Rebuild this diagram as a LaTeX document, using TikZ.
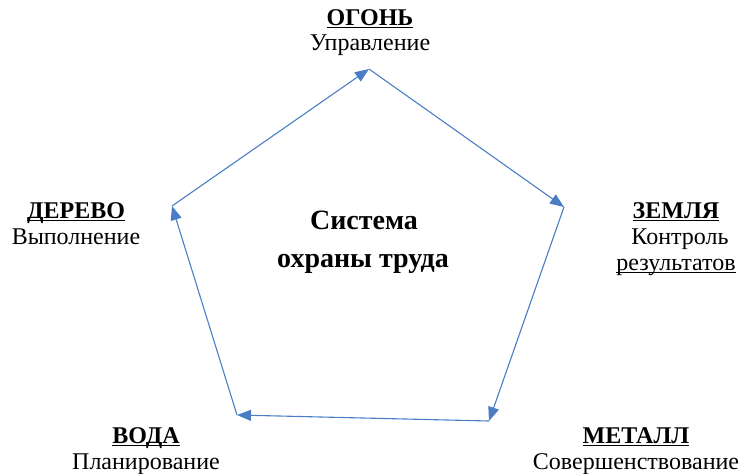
\documentclass[tikz,border=0pt]{standalone}
\usepackage{fontspec}
\setmainfont{Liberation Serif}
\newfontfamily\timesfam{Liberation Serif}
\usetikzlibrary{arrows.meta}
\definecolor{edgeblue}{RGB}{74,126,196}
\newcommand{\myul}[1]{\setbox0\hbox{#1}\rlap{\rule[-3.2pt]{\wd0}{1.2pt}}\box0}
\tikzset{
  lbl/.style={anchor=base, inner sep=0pt, font=\timesfam\fontsize{24}{28}\selectfont},
  ctr/.style={anchor=base, inner sep=0pt, font=\timesfam\fontsize{28}{32}\selectfont\bfseries},
  edge/.style={draw=edgeblue, line width=1.1pt, -{Triangle[length=14pt,width=11pt]}}
}
\begin{document}
\begin{tikzpicture}[x=1pt,y=-1pt]
\useasboundingbox (0,0) rectangle (742,474);
% vertices
\coordinate (vT) at (369,69);
\coordinate (vR) at (564,207);
\coordinate (vBR) at (489,421);
\coordinate (vBL) at (237,415);
\coordinate (vL) at (172,206);
% edges
\draw[edge] (vL) -- (vT);
\draw[edge] (vT) -- (vR);
\draw[edge] (vR) -- (vBR);
\draw[edge] (vBR) -- (vBL);
\draw[edge] (vBL) -- (vL);
% labels
\node[lbl] (fireT) at (370,25) {\myul{\textbf{ОГОНЬ}}};
\node[lbl] (fireS) at (370,50) {Управление};
\node[lbl] (earthT) at (676,218) {\myul{\textbf{ЗЕМЛЯ}}};
\node[lbl] (earthS1) at (680,244) {Контроль};
\node[lbl] (earthS2) at (676,270) {\myul{результатов}};
\node[lbl] (woodT) at (76,218) {\myul{\textbf{ДЕРЕВО}}};
\node[lbl] (woodS) at (76,244) {Выполнение};
\node[lbl] (waterT) at (146,443) {\myul{\textbf{ВОДА}}};
\node[lbl] (waterS) at (146,469) {Планирование};
\node[lbl] (metalT) at (636,443) {\myul{\textbf{МЕТАЛЛ}}};
\node[lbl] (metalS) at (636,469) {Совершенствование};
\node[ctr] (c1) at (364,229) {Система};
\node[ctr] (c2) at (363,267) {охраны труда};
\end{tikzpicture}
\end{document}
